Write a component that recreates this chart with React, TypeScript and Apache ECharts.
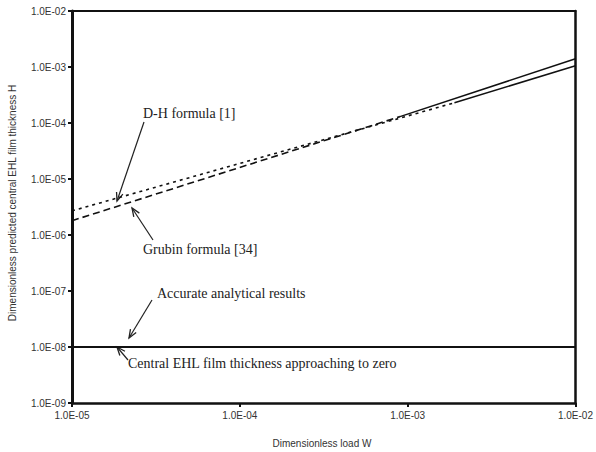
import React, { useEffect, useRef } from "react";
import * as echarts from "echarts";

// Axis ranges (log scale)
const xRange = [1e-5, 1e-2];
const yRange = [1e-9, 1e-2];

// D-H formula [1] (dotted part, then solid part)
const dhDotted: [number, number][] = [
  [1e-5, 2.7e-6],
  [1.9e-3, 2.3e-4],
];
const dhSolid: [number, number][] = [
  [1.9e-3, 2.3e-4],
  [1e-2, 1.05e-3],
];
// Grubin formula [34] (dashed part, then solid part)
const grubinDashed: [number, number][] = [
  [1e-5, 1.8e-6],
  [9e-4, 1.3e-4],
];
const grubinSolid: [number, number][] = [
  [9e-4, 1.3e-4],
  [1e-2, 1.4e-3],
];
// Accurate analytical results
const accurate: [number, number][] = [
  [1e-5, 1e-8],
  [1e-2, 1e-8],
];

const fmtExp = (v: number) => {
  const e = Math.round(Math.log10(v));
  const s = Math.abs(e).toString().padStart(2, "0");
  return "1.0E" + (e < 0 ? "-" : "+") + s;
};

function arrow(x1: number, y1: number, x2: number, y2: number) {
  const ang = Math.atan2(y2 - y1, x2 - x1);
  const L = 9;
  const spread = 0.38;
  const a1 = [x2 - L * Math.cos(ang - spread), y2 - L * Math.sin(ang - spread)];
  const a2 = [x2 - L * Math.cos(ang + spread), y2 - L * Math.sin(ang + spread)];
  return [
    {
      type: "line",
      shape: { x1, y1, x2, y2 },
      style: { stroke: "#222", lineWidth: 1.2 },
    },
    {
      type: "polyline",
      shape: { points: [a1, [x2, y2], a2] },
      style: { stroke: "#222", lineWidth: 1.3, fill: null },
    },
  ];
}

const serif = "'Liberation Serif', 'Times New Roman', serif";
const sans = "'Liberation Sans', Arial, sans-serif";

export default function App() {
  const ref = useRef<HTMLDivElement>(null);
  useEffect(() => {
    if (!ref.current) return;
    const chart = echarts.init(ref.current, undefined, { renderer: "svg" });
    const annText = (x: number, y: number, text: string) => ({
      type: "text",
      x,
      y,
      style: {
        text,
        fill: "#222",
        font: `14px ${serif}`,
        textAlign: "left",
        textVerticalAlign: "middle",
      },
    });
    chart.setOption({
      animation: false,
      grid: { left: 72, right: 14, top: 11, bottom: 49, containLabel: false },
      xAxis: [
        {
          type: "log",
          logBase: 10,
          min: xRange[0],
          max: xRange[1],
          position: "bottom",
          axisLine: { show: true, lineStyle: { color: "#111", width: 2.5 } },
          axisTick: { show: true, length: 4, lineStyle: { color: "#111", width: 2 } },
          minorTick: { show: false },
          splitLine: { show: false },
          axisLabel: {
            formatter: fmtExp,
            color: "#333",
            fontSize: 10,
            fontFamily: sans,
            margin: 7,
          },
        },
        {
          type: "value",
          min: 0,
          max: 1,
          position: "top",
          axisLine: { show: true, onZero: false, lineStyle: { color: "#111", width: 2 } },
          axisTick: { show: false },
          axisLabel: { show: false },
          splitLine: { show: false },
        },
      ],
      yAxis: [
        {
          type: "log",
          logBase: 10,
          min: yRange[0],
          max: yRange[1],
          position: "left",
          axisLine: { show: true, lineStyle: { color: "#111", width: 3 } },
          axisTick: { show: true, length: 4, lineStyle: { color: "#111", width: 2 } },
          minorTick: { show: false },
          splitLine: { show: false },
          axisLabel: {
            formatter: fmtExp,
            color: "#333",
            fontSize: 10,
            fontFamily: sans,
            margin: 6,
          },
        },
        {
          type: "value",
          min: 0,
          max: 1,
          position: "right",
          axisLine: { show: true, onZero: false, lineStyle: { color: "#111", width: 2.5 } },
          axisTick: { show: false },
          axisLabel: { show: false },
          splitLine: { show: false },
        },
      ],
      series: [
        {
          name: "Accurate analytical results",
          type: "line",
          data: accurate,
          showSymbol: false,
          lineStyle: { color: "#111", width: 2 },
        },
        {
          name: "D-H formula [1]",
          type: "line",
          data: dhDotted,
          showSymbol: false,
          lineStyle: { color: "#111", width: 1.6, type: [3, 4] },
        },
        {
          name: "D-H formula [1] solid",
          type: "line",
          data: dhSolid,
          showSymbol: false,
          lineStyle: { color: "#111", width: 1.5 },
        },
        {
          name: "Grubin formula [34]",
          type: "line",
          data: grubinDashed,
          showSymbol: false,
          lineStyle: { color: "#111", width: 1.6, type: [7, 4] },
        },
        {
          name: "Grubin formula [34] solid",
          type: "line",
          data: grubinSolid,
          showSymbol: false,
          lineStyle: { color: "#111", width: 1.5 },
        },
      ],
      graphic: [
        annText(143, 113, "D-H formula [1]"),
        annText(143, 249, "Grubin formula [34]"),
        annText(157, 293, "Accurate analytical results"),
        annText(128, 363, "Central EHL film thickness approaching to zero"),
        ...arrow(144, 122, 117, 201),
        ...arrow(153, 240, 132, 208),
        ...arrow(152, 300, 129, 338),
        ...arrow(128, 360, 117, 347),
        {
          type: "text",
          x: 322,
          y: 443,
          style: {
            text: "Dimensionless load W",
            fill: "#333",
            font: `10px ${sans}`,
            textAlign: "center",
            textVerticalAlign: "middle",
          },
        },
        {
          type: "text",
          x: 12,
          y: 203,
          rotation: Math.PI / 2,
          style: {
            text: "Dimensionless predicted central EHL film thickness H",
            fill: "#333",
            font: `10px ${sans}`,
            textAlign: "center",
            textVerticalAlign: "middle",
          },
        },
      ],
    });
    return () => chart.dispose();
  }, []);
  return <div ref={ref} style={{ width: 596, height: 452, position: "absolute", left: 0, top: 0 }} />;
}
